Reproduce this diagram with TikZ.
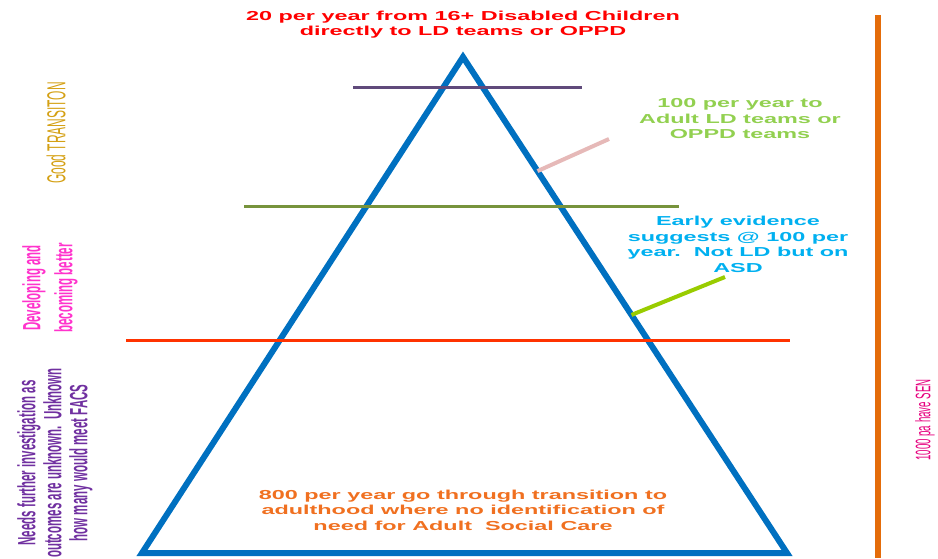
\documentclass[tikz,border=0pt]{standalone}
\usepackage{fontspec}
\setmainfont{Liberation Sans}
\newfontfamily\widefont{Liberation Sans}[FakeStretch=1.8]
\newfontfamily\narrowfont{Liberation Sans}[FakeStretch=0.46]
\usetikzlibrary{calc}
\definecolor{pyrblue}{RGB}{0,112,192}
\definecolor{topred}{RGB}{255,0,0}
\definecolor{teamgreen}{RGB}{146,208,80}
\definecolor{asdblue}{RGB}{0,176,240}
\definecolor{baseorange}{RGB}{240,112,32}
\definecolor{goodgold}{RGB}{212,160,20}
\definecolor{devmagenta}{RGB}{255,51,204}
\definecolor{needpurple}{RGB}{112,48,160}
\definecolor{senpink}{RGB}{230,0,126}
\definecolor{barpurple}{RGB}{96,74,123}
\definecolor{barolive}{RGB}{119,147,60}
\definecolor{barred}{RGB}{255,51,0}
\definecolor{linkpink}{RGB}{230,185,184}
\definecolor{linklime}{RGB}{153,204,0}
\definecolor{sideorange}{RGB}{228,108,10}
\begin{document}
\begin{tikzpicture}[x=1pt, y=1pt,
    flow/.style={font=\widefont\bfseries\fontsize{13}{15.5}\selectfont, align=center, inner sep=0pt},
    side/.style={font=\narrowfont\fontsize{26}{32}\selectfont, align=center, inner sep=0pt, rotate=90}]
    \useasboundingbox (0,0) rectangle (938,558);

    % Pyramid
    \coordinate (apex) at (463,501);
    \coordinate (left) at (142,5);
    \coordinate (right) at (787,5);
    \draw[line width=6pt, pyrblue, line join=miter] (apex) -- (right) -- (left) -- cycle;

    % Levels across the pyramid
    \draw[line width=3pt, barpurple] (353,470) -- (582,470);
    \draw[line width=3pt, barolive] (244,351) -- (679,351);
    \draw[line width=3pt, barred] (126,218) -- (790,218);

    % Scale bar
    \draw[line width=6pt, sideorange] (878,543) -- (878,0);

    % Numbers per year
    \node[flow, topred] (direct) at (463,533.5) {20 per year from 16+ Disabled Children\\directly to LD teams or OPPD};
    \node[flow, teamgreen] (adult) at (740,439) {100 per year to\\Adult LD teams or\\OPPD teams};
    \node[flow, asdblue] (asd) at (738,313.5) {Early evidence\\suggests @ 100 per\\year.\ \ Not LD but on\\ASD};
    \node[flow, baseorange] (nocare) at (463,48) {800 per year go through transition to\\adulthood where no identification of\\need for Adult\ \ Social Care};

    % Links from the pyramid
    \coordinate (adultend) at (609,419);
    \coordinate (asdend) at (725,281);
    \draw[line width=4pt, linkpink] ($(apex)!0.23!(right)$) -- (adultend);
    \draw[line width=4pt, linklime] ($(apex)!0.52!(right)$) -- (asdend);

    % Side notes
    \node[side, goodgold] (good) at (56,425) {Good TRANSITON};
    \node[side, devmagenta, font=\narrowfont\bfseries\fontsize{25}{32}\selectfont] (dev) at (50,270) {Developing and\\becoming better};
    \node[side, needpurple, font=\narrowfont\bfseries\fontsize{25}{26}\selectfont] (needs) at (55,95) {Needs further investigation as\\outcomes are unknown.\ \ Unknown\\how many would meet FACS};
    \node[side, senpink, font=\narrowfont\fontsize{21}{25}\selectfont] (sen) at (925,138) {1000 pa have SEN};
\end{tikzpicture}
\end{document}
